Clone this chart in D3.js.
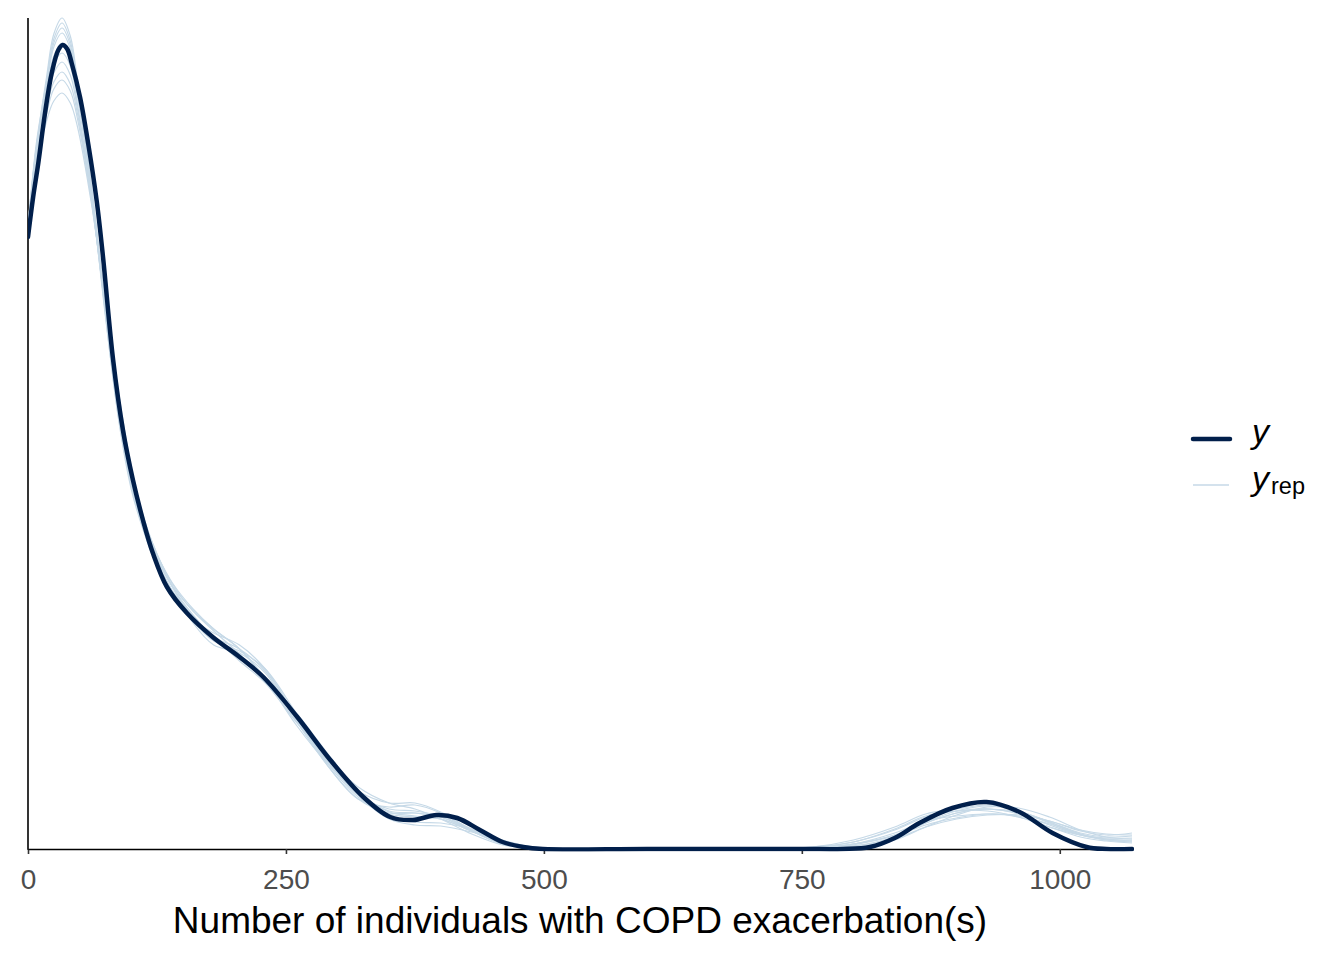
<!DOCTYPE html>
<html>
<head>
<meta charset="utf-8">
<script src="https://cdn.jsdelivr.net/npm/d3@7"></script>
<style>
  html, body { margin: 0; padding: 0; background: #fff; }
  svg { display: block; }
  text { font-family: "Liberation Sans", Arial, Helvetica, sans-serif; }
</style>
</head>
<body>
<svg id="chart" width="1344" height="960"></svg>
<script>
// ---- data (density in units of 1e-5) ----
const xTicks = [0, 250, 500, 750, 1000];
const xTitle = "Number of individuals with COPD exacerbation(s)";

// observed density y
const obsX = [0, 5, 10, 16.5, 23, 29.4, 33.6, 38, 42.3, 50.4, 58.4, 66.6, 72.7, 82.4, 92, 101.7, 111.4, 121, 134.7, 154, 179, 205, 228, 261, 293, 325, 351, 373, 396, 416, 438, 460, 480, 499, 600, 750, 790, 816, 840, 864, 896, 929, 961, 993, 1026, 1045, 1070];
const obsY = [612, 652, 686, 736, 776, 799, 804, 800, 786, 752, 705, 648, 592, 490, 419, 369, 329, 296, 262, 236, 212, 192, 172, 132, 89, 52, 32, 29, 34, 31, 19, 7, 2, 0, 0, 0, 0, 2, 11, 26, 41, 47, 37, 16, 2, 0, 0];

// replicated densities y_rep (common grid)
const repX = [0, 8, 18, 25, 33, 41, 48, 62, 75, 88, 100, 112, 125, 140, 160, 180, 205, 230, 260, 290, 320, 350, 375, 400, 430, 460, 490, 530, 600, 700, 760, 800, 840, 870, 900, 930, 960, 990, 1020, 1045, 1070];
const rep1  = [612, 700, 772, 815, 831, 813, 768, 660, 535, 428, 360, 318, 283, 255, 232, 212, 188, 166, 128, 88, 54, 40, 38, 33, 20, 7, 2, 0, 0, 0, 1, 3, 12, 26, 36, 40, 35, 24, 14, 9, 8];
const rep2  = [620, 705, 768, 810, 826, 808, 762, 655, 540, 438, 366, 320, 290, 262, 226, 204, 196, 176, 128, 84, 50, 42, 44, 36, 18, 5, 1, 0, 0, 0, 2, 7, 20, 33, 38, 40, 36, 28, 19, 15, 14];
const rep3  = [615, 700, 765, 806, 821, 804, 760, 652, 533, 430, 364, 324, 294, 266, 240, 220, 200, 170, 124, 86, 58, 46, 46, 37, 19, 5, 1, 0, 0, 0, 1, 4, 14, 27, 38, 43, 38, 27, 15, 9, 7];
const rep4  = [618, 702, 762, 802, 816, 800, 758, 657, 542, 440, 370, 323, 288, 258, 228, 208, 198, 180, 136, 92, 54, 30, 24, 23, 17, 8, 2, 0, 0, 0, 0, 2, 9, 22, 34, 42, 41, 32, 19, 12, 10];
const rep5  = [622, 700, 755, 785, 796, 783, 744, 648, 538, 440, 368, 320, 283, 252, 229, 216, 204, 180, 132, 84, 50, 36, 36, 32, 18, 5, 1, 0, 0, 0, 1, 5, 16, 28, 33, 35, 32, 22, 12, 8, 6];
const rep6  = [612, 690, 748, 776, 787, 774, 740, 648, 540, 442, 372, 325, 291, 263, 238, 218, 195, 167, 127, 92, 62, 46, 40, 30, 15, 4, 1, 0, 0, 0, 2, 9, 22, 35, 40, 44, 38, 27, 16, 12, 13];
const rep7  = [625, 695, 742, 767, 777, 765, 735, 645, 540, 446, 376, 328, 292, 262, 234, 211, 191, 170, 136, 96, 58, 33, 27, 26, 20, 9, 2, 0, 0, 0, 1, 3, 10, 22, 30, 34, 34, 28, 18, 14, 16];
const rep8  = [615, 688, 735, 760, 769, 758, 730, 645, 545, 450, 378, 330, 295, 265, 238, 220, 200, 171, 130, 88, 55, 37, 33, 30, 18, 6, 1, 0, 0, 0, 1, 5, 13, 24, 31, 35, 33, 25, 15, 10, 9];
const rep9  = [620, 685, 728, 748, 756, 746, 722, 642, 548, 455, 382, 332, 295, 262, 232, 212, 200, 178, 132, 86, 52, 35, 32, 30, 18, 6, 1, 0, 0, 0, 1, 7, 19, 32, 38, 38, 32, 22, 14, 11, 11];
const rep10 = [617, 700, 760, 793, 806, 791, 752, 656, 543, 442, 370, 322, 287, 258, 233, 212, 192, 172, 132, 90, 56, 38, 36, 32, 19, 6, 1, 0, 0, 0, 1, 5, 14, 26, 36, 40, 37, 26, 14, 10, 8];
const repSeries = [rep1, rep2, rep3, rep4, rep5, rep6, rep7, rep8, rep9, rep10];

const xDomain = [0, 1070];
const yMax = 831;

// ---- drawing ----
const svg = d3.select("#chart");
const pLeft = 28, pRight = 1132, pTop = 18, pBottom = 849;
const x = d3.scaleLinear().domain(xDomain).range([pLeft, pRight]);
const y = d3.scaleLinear().domain([0, yMax]).range([pBottom, pTop]);

const darkCol = "#011f4b", lightCol = "#c6d9e7";

const line = d3.line()
  .x(d => x(d[0]))
  .y(d => y(d[1]))
  .curve(d3.curveCatmullRom.alpha(0.5));

// clip so interpolation never dips visibly below the baseline
svg.append("defs").append("clipPath").attr("id", "clip")
  .append("rect").attr("x", pLeft).attr("y", 0)
  .attr("width", pRight - pLeft + 2).attr("height", pBottom + 2.5);

// axes
const xAxis = d3.axisBottom(x).tickValues(xTicks).tickFormat(d3.format("d"))
  .tickSize(5).tickPadding(9).tickSizeOuter(0);
const gx = svg.append("g").attr("transform", `translate(0,${pBottom})`).call(xAxis);
gx.select(".domain").attr("stroke", "#000").attr("stroke-width", 1.6);
gx.selectAll(".tick line").attr("stroke", "#333").attr("stroke-width", 1.6);
gx.selectAll(".tick text")
  .attr("fill", "#4d4d4d")
  .attr("font-size", 28)
  .attr("font-family", '"Liberation Sans", Arial, sans-serif')
  .attr("dy", null)
  .attr("y", 40);

svg.append("line")
  .attr("x1", x(0)).attr("x2", x(0))
  .attr("y1", y(yMax)).attr("y2", pBottom + 0.8)
  .attr("stroke", "#000").attr("stroke-width", 1.6);

const gPlot = svg.append("g").attr("clip-path", "url(#clip)");
repSeries.forEach(s => {
  gPlot.append("path")
    .datum(repX.map((xv, i) => [xv, s[i]]))
    .attr("d", line)
    .attr("fill", "none")
    .attr("stroke", lightCol)
    .attr("stroke-width", 1.2);
});

// observed on top
gPlot.append("path")
  .datum(obsX.map((xv, i) => [xv, obsY[i]]))
  .attr("d", line)
  .attr("fill", "none")
  .attr("stroke", darkCol)
  .attr("stroke-width", 4.5)
  .attr("stroke-linejoin", "round")
  .attr("stroke-linecap", "round");

// x title
svg.append("text")
  .attr("x", (pLeft + pRight) / 2)
  .attr("y", 932.5)
  .attr("text-anchor", "middle")
  .attr("font-size", 37)
  .attr("fill", "#000")
  .text(xTitle);

// legend
const lg = svg.append("g");
lg.append("line").attr("x1", 1193).attr("x2", 1230).attr("y1", 439).attr("y2", 439)
  .attr("stroke", darkCol).attr("stroke-width", 4.5).attr("stroke-linecap", "round");
lg.append("line").attr("x1", 1193).attr("x2", 1229).attr("y1", 485).attr("y2", 485)
  .attr("stroke", lightCol).attr("stroke-width", 1.3);
lg.append("text").attr("x", 1252).attr("y", 443)
  .attr("font-size", 34).attr("font-style", "italic").text("y");
const t2 = lg.append("text").attr("x", 1252).attr("y", 489.5).attr("font-size", 34);
t2.append("tspan").attr("font-style", "italic").text("y");
t2.append("tspan").attr("font-size", 23.5).attr("dy", 4.5).attr("dx", 2).text("rep");
</script>
</body>
</html>
